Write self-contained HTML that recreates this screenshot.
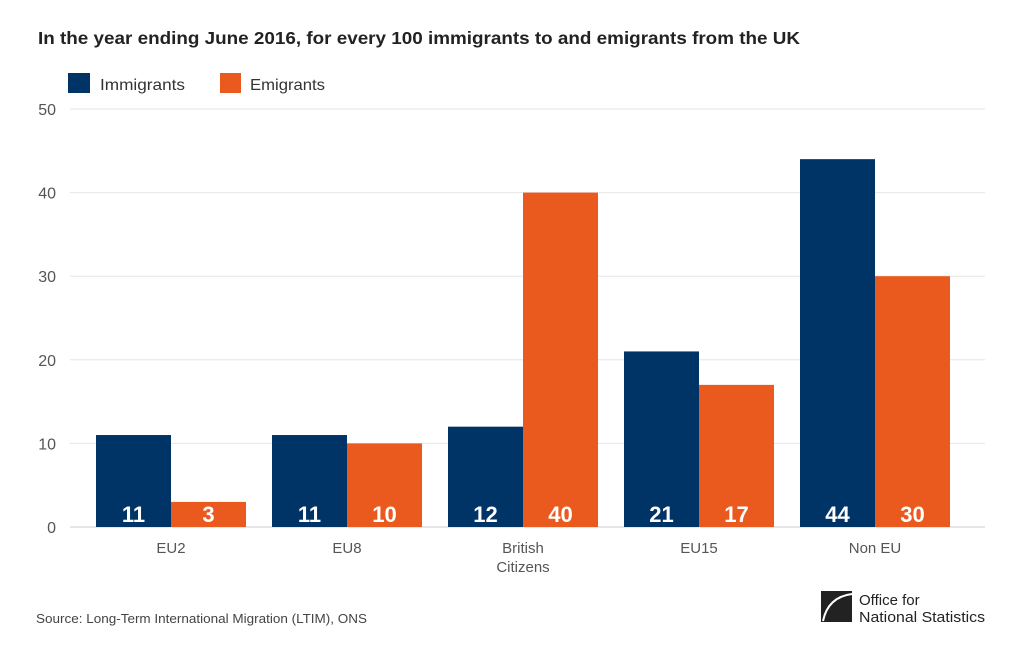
<!DOCTYPE html>
<html><head><meta charset="utf-8"><style>
body{margin:0;background:#fff;font-family:"Liberation Sans",sans-serif;}
svg text{font-family:"Liberation Sans",sans-serif;}
</style></head><body>
<svg id="chart" width="1024" height="650" xmlns="http://www.w3.org/2000/svg">
<text x="38" y="44" font-size="17.5" font-weight="bold" fill="#222" textLength="762" lengthAdjust="spacingAndGlyphs">In the year ending June 2016, for every 100 immigrants to and emigrants from the UK</text>
<g>
<rect x="68" y="73" width="22" height="20" fill="#003366"/>
<text x="100" y="90" font-size="16" fill="#333" textLength="85" lengthAdjust="spacingAndGlyphs">Immigrants</text>
<rect x="220" y="73" width="21" height="20" fill="#ea5a1f"/>
<text x="250" y="90" font-size="16" fill="#333" textLength="75" lengthAdjust="spacingAndGlyphs">Emigrants</text>
</g>
<g id="grid"></g><g id="bars"></g><g id="labels"></g>
<text x="36" y="623" font-size="12.5" fill="#444" textLength="331" lengthAdjust="spacingAndGlyphs">Source: Long-Term International Migration (LTIM), ONS</text>
<g>
<rect x="821" y="591" width="31" height="31" fill="#222"/>
<path d="M823 621 Q828 597 852 594" stroke="#fff" stroke-width="2" fill="none"/>
<text x="859" y="605" font-size="15" fill="#222">Office for</text>
<text x="859" y="622" font-size="15" fill="#222" textLength="126" lengthAdjust="spacingAndGlyphs">National Statistics</text>
</g>
</svg>
<script>
const categories=["EU2","EU8","British Citizens","EU15","Non EU"];
const immigrants=[11,11,12,21,44];
const emigrants=[3,10,40,17,30];
const yTicks=[0,10,20,30,40,50];
const NS="http://www.w3.org/2000/svg";
const y0=527,yTop=109,yMax=50;
const y=v=>y0-(v/yMax)*(y0-yTop);
const bandStart=83,bandW=176,barW=75,pad=13;
const xb=i=>bandStart+i*bandW+pad;
function mk(tag,attrs,parent,txt){const e=document.createElementNS(NS,tag);for(const k in attrs)e.setAttribute(k,attrs[k]);if(txt!==undefined)e.textContent=txt;document.getElementById(parent).appendChild(e);return e;}
yTicks.forEach(t=>{
 const l=mk('line',{x1:70,x2:985,y1:y(t),y2:y(t),stroke:t===0?'#ccc':'#e6e6e6','stroke-width':1},'grid');
 
 
 const tx=mk('text',{x:56,y:y(t)+6,'font-size':16,fill:'#555','text-anchor':'end'},'grid',String(t));
 
 
});
categories.forEach((c,i)=>{
 const a=mk('rect',{x:xb(i),y:y(immigrants[i]),width:barW,height:y0-y(immigrants[i]),fill:'#003366'},'bars');
 
 
 const b=mk('rect',{x:xb(i)+barW,y:y(emigrants[i]),width:barW,height:y0-y(emigrants[i]),fill:'#ea5a1f'},'bars');
 
 
 const la=mk('text',{x:xb(i)+barW/2,y:522,'font-size':22,'font-weight':'bold',fill:'#fff','text-anchor':'middle'},'labels',String(immigrants[i]));
 
 
 const lb=mk('text',{x:xb(i)+barW*1.5,y:522,'font-size':22,'font-weight':'bold',fill:'#fff','text-anchor':'middle'},'labels',String(emigrants[i]));
 
 
 const words=c==="British Citizens"?["British","Citizens"]:[c];
 words.forEach((w,k)=>{
  const t=mk('text',{x:xb(i)+barW,y:553+k*19,'font-size':15,fill:'#555','text-anchor':'middle'},'labels',w);
  
  
 });
});
</script>
</body></html>
